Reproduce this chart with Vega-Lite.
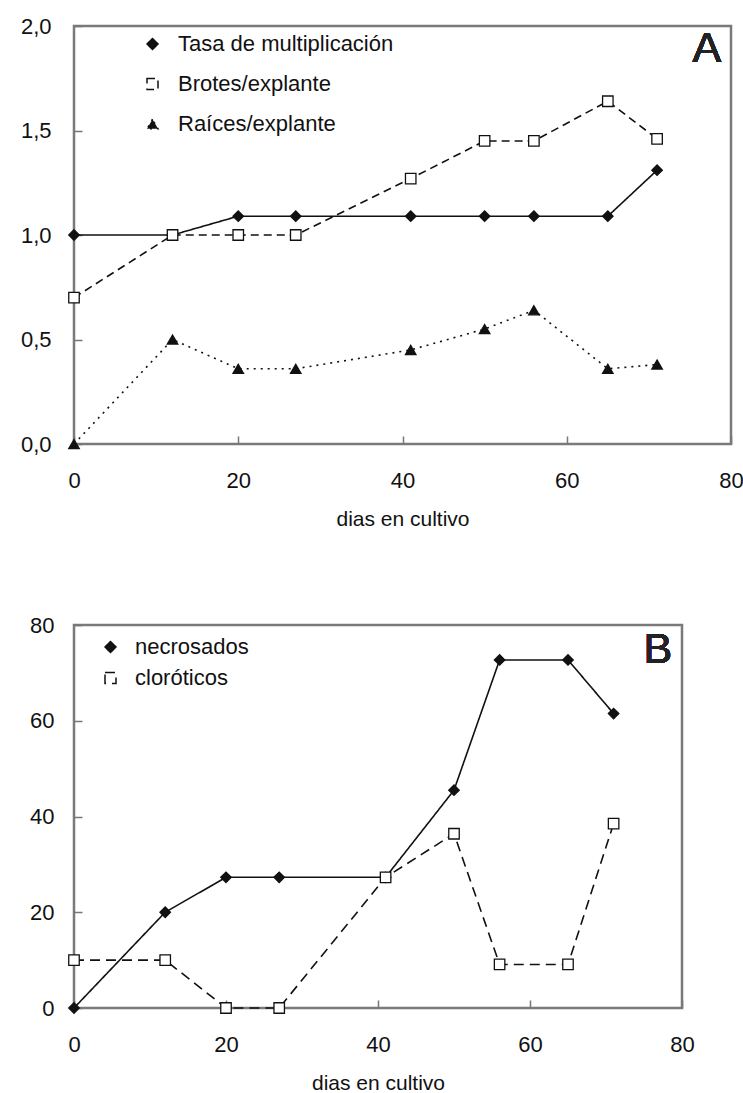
{
  "$schema": "https://vega.github.io/schema/vega-lite/v6.json",
  "padding": {"left": 5, "top": 13, "right": 5, "bottom": 5},
  "background": "white",
  "config": {
    "font": "Liberation Sans",
    "view": {"stroke": "#7a7a7a", "strokeWidth": 2.5},
    "axis": {
      "domain": false, "grid": false,
      "tickColor": "#777", "tickWidth": 1.5, "tickSize": -8,
      "labelFont": "Liberation Sans", "labelFontSize": 22, "labelColor": "#111", "labelFlush": false,
      "titleFont": "Liberation Sans", "titleFontSize": 21, "titleFontWeight": "normal", "titleColor": "#111"
    },
    "legend": {"labelFont": "Liberation Sans", "labelFontSize": 22, "labelColor": "#111", "labelLimit": 400}
  },
  "vconcat": [
    {
      "width": 657, "height": 418,
      "data": {"values": [
        {"dias": 0, "serie": "Tasa de multiplicación", "valor": 1.0},
        {"dias": 12, "serie": "Tasa de multiplicación", "valor": 1.0},
        {"dias": 20, "serie": "Tasa de multiplicación", "valor": 1.09},
        {"dias": 27, "serie": "Tasa de multiplicación", "valor": 1.09},
        {"dias": 41, "serie": "Tasa de multiplicación", "valor": 1.09},
        {"dias": 50, "serie": "Tasa de multiplicación", "valor": 1.09},
        {"dias": 56, "serie": "Tasa de multiplicación", "valor": 1.09},
        {"dias": 65, "serie": "Tasa de multiplicación", "valor": 1.09},
        {"dias": 71, "serie": "Tasa de multiplicación", "valor": 1.31},
        {"dias": 0, "serie": "Brotes/explante", "valor": 0.7},
        {"dias": 12, "serie": "Brotes/explante", "valor": 1.0},
        {"dias": 20, "serie": "Brotes/explante", "valor": 1.0},
        {"dias": 27, "serie": "Brotes/explante", "valor": 1.0},
        {"dias": 41, "serie": "Brotes/explante", "valor": 1.27},
        {"dias": 50, "serie": "Brotes/explante", "valor": 1.45},
        {"dias": 56, "serie": "Brotes/explante", "valor": 1.45},
        {"dias": 65, "serie": "Brotes/explante", "valor": 1.64},
        {"dias": 71, "serie": "Brotes/explante", "valor": 1.46},
        {"dias": 0, "serie": "Raíces/explante", "valor": 0.0},
        {"dias": 12, "serie": "Raíces/explante", "valor": 0.5},
        {"dias": 20, "serie": "Raíces/explante", "valor": 0.36},
        {"dias": 27, "serie": "Raíces/explante", "valor": 0.36},
        {"dias": 41, "serie": "Raíces/explante", "valor": 0.45},
        {"dias": 50, "serie": "Raíces/explante", "valor": 0.55},
        {"dias": 56, "serie": "Raíces/explante", "valor": 0.64},
        {"dias": 65, "serie": "Raíces/explante", "valor": 0.36},
        {"dias": 71, "serie": "Raíces/explante", "valor": 0.38}
      ]},
      "encoding": {
        "x": {"field": "dias", "type": "quantitative", "scale": {"domain": [0, 80], "nice": false},
              "axis": {"values": [0, 20, 40, 60, 80], "title": "dias en cultivo", "labelPadding": 34, "titlePadding": 17}},
        "y": {"field": "valor", "type": "quantitative", "scale": {"domain": [0, 2], "nice": false},
              "axis": {"values": [0, 0.5, 1, 1.5, 2], "title": null, "labelPadding": 31,
                       "labelExpr": "replace(format(datum.value, '.1f'), '.', ',')",
                       "minExtent": 67, "maxExtent": 67}}
      },
      "layer": [
        {
          "mark": {"type": "line", "color": "#111", "strokeWidth": 1.6},
          "encoding": {
            "strokeDash": {"field": "serie", "type": "nominal",
              "scale": {"domain": ["Tasa de multiplicación", "Brotes/explante", "Raíces/explante"], "range": [[1, 0], [8, 5], [2, 5]]},
              "legend": {"title": null, "orient": "none", "legendX": 67.5, "legendY": 7, "symbolSize": 121, "labelOffset": 14.5, "rowPadding": 18, "padding": 0,
                "encode": {"symbols": {"update": {
                  "shape": {"signal": "datum.value === 'Tasa de multiplicación' ? 'M-3.9,0L3.9,0M0,-1L1,0L0,1L-1,0Z' : datum.value === 'Brotes/explante' ? 'M-3.9,0L-0.9,0M0.9,0L3.9,0M-0.9,-0.9L0.9,-0.9L0.9,0.9L-0.9,0.9Z' : 'M-3.9,-0.1L-3.6,-0.1L-3.6,0.15L-3.9,0.15ZM0,-0.9L1,0.8L-1,0.8Z'"},
                  "fill": {"signal": "datum.value === 'Brotes/explante' ? '#ffffff' : '#111111'"},
                  "stroke": {"value": "#111"}, "strokeWidth": {"value": 1.4}, "strokeDash": {"value": [1, 0]}, "opacity": {"value": 1}}}}}}
          }
        },
        {
          "mark": {"type": "point", "filled": true, "size": 110, "stroke": "#111", "strokeWidth": 1.3, "opacity": 1},
          "encoding": {
            "shape": {"field": "serie", "type": "nominal",
              "scale": {"domain": ["Tasa de multiplicación", "Brotes/explante", "Raíces/explante"], "range": ["diamond", "square", "triangle-up"]},
              "legend": {"title": null, "orient": "none", "legendX": 67.5, "legendY": 7, "symbolSize": 121, "labelOffset": 14.5, "rowPadding": 18, "padding": 0,
                "encode": {"symbols": {"update": {
                  "shape": {"signal": "datum.value === 'Tasa de multiplicación' ? 'M-3.9,0L3.9,0M0,-1L1,0L0,1L-1,0Z' : datum.value === 'Brotes/explante' ? 'M-3.9,0L-0.9,0M0.9,0L3.9,0M-0.9,-0.9L0.9,-0.9L0.9,0.9L-0.9,0.9Z' : 'M-3.9,-0.1L-3.6,-0.1L-3.6,0.15L-3.9,0.15ZM0,-0.9L1,0.8L-1,0.8Z'"},
                  "fill": {"signal": "datum.value === 'Brotes/explante' ? '#ffffff' : '#111111'"},
                  "stroke": {"value": "#111"}, "strokeWidth": {"value": 1.4}, "strokeDash": {"value": [1, 0]}, "opacity": {"value": 1}}}}}},
            "fill": {"field": "serie", "type": "nominal",
              "scale": {"domain": ["Tasa de multiplicación", "Brotes/explante", "Raíces/explante"], "range": ["#111", "#ffffff", "#111"]},
              "legend": {"title": null, "orient": "none", "legendX": 67.5, "legendY": 7, "symbolSize": 121, "labelOffset": 14.5, "rowPadding": 18, "padding": 0,
                "encode": {"symbols": {"update": {
                  "shape": {"signal": "datum.value === 'Tasa de multiplicación' ? 'M-3.9,0L3.9,0M0,-1L1,0L0,1L-1,0Z' : datum.value === 'Brotes/explante' ? 'M-3.9,0L-0.9,0M0.9,0L3.9,0M-0.9,-0.9L0.9,-0.9L0.9,0.9L-0.9,0.9Z' : 'M-3.9,-0.1L-3.6,-0.1L-3.6,0.15L-3.9,0.15ZM0,-0.9L1,0.8L-1,0.8Z'"},
                  "fill": {"signal": "datum.value === 'Brotes/explante' ? '#ffffff' : '#111111'"},
                  "stroke": {"value": "#111"}, "strokeWidth": {"value": 1.4}, "strokeDash": {"value": [1, 0]}, "opacity": {"value": 1}}}}}}
          }
        },
        {
          "mark": {"type": "text", "text": "A", "fontSize": 43, "fontWeight": "normal", "fill": "#222", "align": "right", "baseline": "alphabetic"},
          "encoding": {"x": {"datum": 78.8}, "y": {"datum": 1.83}}
        }
      ]
    },
    {
      "width": 608, "height": 383,
      "data": {"values": [
        {"dias": 0, "serie": "necrosados", "valor": 0},
        {"dias": 12, "serie": "necrosados", "valor": 20},
        {"dias": 20, "serie": "necrosados", "valor": 27.3},
        {"dias": 27, "serie": "necrosados", "valor": 27.3},
        {"dias": 41, "serie": "necrosados", "valor": 27.3},
        {"dias": 50, "serie": "necrosados", "valor": 45.5},
        {"dias": 56, "serie": "necrosados", "valor": 72.7},
        {"dias": 65, "serie": "necrosados", "valor": 72.7},
        {"dias": 71, "serie": "necrosados", "valor": 61.5},
        {"dias": 0, "serie": "cloróticos", "valor": 10},
        {"dias": 12, "serie": "cloróticos", "valor": 10},
        {"dias": 20, "serie": "cloróticos", "valor": 0},
        {"dias": 27, "serie": "cloróticos", "valor": 0},
        {"dias": 41, "serie": "cloróticos", "valor": 27.3},
        {"dias": 50, "serie": "cloróticos", "valor": 36.4},
        {"dias": 56, "serie": "cloróticos", "valor": 9.1},
        {"dias": 65, "serie": "cloróticos", "valor": 9.1},
        {"dias": 71, "serie": "cloróticos", "valor": 38.5}
      ]},
      "encoding": {
        "x": {"field": "dias", "type": "quantitative", "scale": {"domain": [0, 80], "nice": false},
              "axis": {"values": [0, 20, 40, 60, 80], "title": "dias en cultivo", "labelPadding": 34, "titlePadding": 17}},
        "y": {"field": "valor", "type": "quantitative", "scale": {"domain": [0, 80], "nice": false},
              "axis": {"values": [0, 20, 40, 60, 80], "title": null, "labelPadding": 28, "minExtent": 67, "maxExtent": 67}}
      },
      "layer": [
        {
          "mark": {"type": "line", "color": "#111", "strokeWidth": 1.6},
          "encoding": {
            "strokeDash": {"field": "serie", "type": "nominal",
              "scale": {"domain": ["necrosados", "cloróticos"], "range": [[1, 0], [10, 6]]},
              "legend": {"title": null, "orient": "none", "legendX": 25.5, "legendY": 11, "symbolSize": 121, "labelOffset": 13.5, "rowPadding": 9, "padding": 0,
                "encode": {"symbols": {"update": {
                  "shape": {"signal": "datum.value === 'necrosados' ? 'M-3.5,0L3.5,0M0,-1L1,0L0,1L-1,0Z' : 'M-3.5,0L-0.9,0M0.9,0L3.5,0M-0.9,-0.9L0.9,-0.9L0.9,0.9L-0.9,0.9Z'"},
                  "fill": {"signal": "datum.value === 'necrosados' ? '#111111' : '#ffffff'"},
                  "stroke": {"value": "#111"}, "strokeWidth": {"value": 1.4}, "strokeDash": {"value": [1, 0]}, "opacity": {"value": 1}}}}}}
          }
        },
        {
          "mark": {"type": "point", "filled": true, "size": 110, "stroke": "#111", "strokeWidth": 1.3, "opacity": 1},
          "encoding": {
            "shape": {"field": "serie", "type": "nominal",
              "scale": {"domain": ["necrosados", "cloróticos"], "range": ["diamond", "square"]},
              "legend": {"title": null, "orient": "none", "legendX": 25.5, "legendY": 11, "symbolSize": 121, "labelOffset": 13.5, "rowPadding": 9, "padding": 0,
                "encode": {"symbols": {"update": {
                  "shape": {"signal": "datum.value === 'necrosados' ? 'M-3.5,0L3.5,0M0,-1L1,0L0,1L-1,0Z' : 'M-3.5,0L-0.9,0M0.9,0L3.5,0M-0.9,-0.9L0.9,-0.9L0.9,0.9L-0.9,0.9Z'"},
                  "fill": {"signal": "datum.value === 'necrosados' ? '#111111' : '#ffffff'"},
                  "stroke": {"value": "#111"}, "strokeWidth": {"value": 1.4}, "strokeDash": {"value": [1, 0]}, "opacity": {"value": 1}}}}}},
            "fill": {"field": "serie", "type": "nominal",
              "scale": {"domain": ["necrosados", "cloróticos"], "range": ["#111", "#ffffff"]},
              "legend": {"title": null, "orient": "none", "legendX": 25.5, "legendY": 11, "symbolSize": 121, "labelOffset": 13.5, "rowPadding": 9, "padding": 0,
                "encode": {"symbols": {"update": {
                  "shape": {"signal": "datum.value === 'necrosados' ? 'M-3.5,0L3.5,0M0,-1L1,0L0,1L-1,0Z' : 'M-3.5,0L-0.9,0M0.9,0L3.5,0M-0.9,-0.9L0.9,-0.9L0.9,0.9L-0.9,0.9Z'"},
                  "fill": {"signal": "datum.value === 'necrosados' ? '#111111' : '#ffffff'"},
                  "stroke": {"value": "#111"}, "strokeWidth": {"value": 1.4}, "strokeDash": {"value": [1, 0]}, "opacity": {"value": 1}}}}}}
          }
        },
        {
          "mark": {"type": "text", "text": "B", "fontSize": 43, "fontWeight": "normal", "fill": "#222", "align": "right", "baseline": "alphabetic"},
          "encoding": {"x": {"datum": 78.7}, "y": {"datum": 72}}
        }
      ]
    }
  ],
  "spacing": 81,
  "resolve": {"scale": {"x": "independent", "y": "independent", "shape": "independent", "fill": "independent", "strokeDash": "independent"}}
}
